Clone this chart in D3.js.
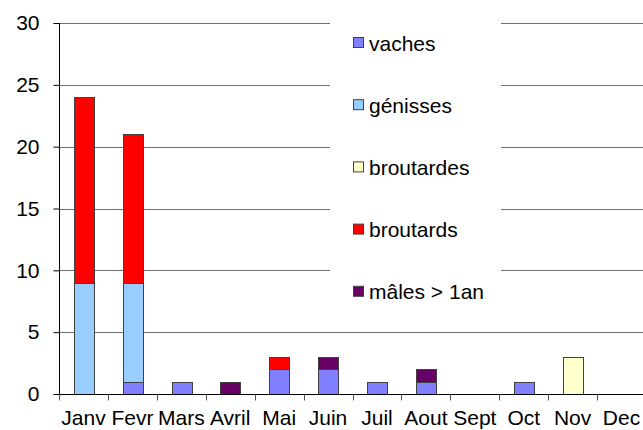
<!DOCTYPE html>
<html lang="fr">
<head>
    <meta charset="UTF-8">
    <title>Mouvements par mois</title>
    <script src="https://d3js.org/d3.v7.min.js"></script>
    <style>
        body { margin: 0; background: #fff; }
        svg { display: block; font-family: "Liberation Sans", Arial, sans-serif; }
        .grid line { stroke: #707070; stroke-width: 1px; }
        .bar { stroke: #404040; stroke-width: 1px; }
    </style>
</head>
<body>
<svg width="643" height="430"></svg>
<script>
    const months = ["Janv", "Fevr", "Mars", "Avril", "Mai", "Juin", "Juil", "Aout", "Sept", "Oct", "Nov", "Dec"];
    const seriesNames = ["vaches", "génisses", "broutardes", "broutards", "mâles > 1an"];
    const colors = ["#8080ff", "#99ccff", "#ffffcc", "#ff0000", "#660066"];

    const vaches     = [0, 1, 1, 0, 2, 2, 1, 1, 0, 1, 0, 0];
    const genisses   = [9, 8, 0, 0, 0, 0, 0, 0, 0, 0, 0, 0];
    const broutardes = [0, 0, 0, 0, 0, 0, 0, 0, 0, 0, 3, 0];
    const broutards  = [15, 12, 0, 0, 1, 0, 0, 0, 0, 0, 0, 0];
    const males      = [0, 0, 0, 1, 0, 1, 0, 1, 0, 0, 0, 0];
    const yTicks = [0, 5, 10, 15, 20, 25, 30];

    const allSeries = [vaches, genisses, broutardes, broutards, males];
    const rows = months.map((m, i) => {
        let r = {month: m};
        seriesNames.forEach((s, j) => r[s] = allSeries[j][i]);
        return r;
    });

    const svg = d3.select("svg");
    const plotLeft = 59, plotRight = 646, plotTop = 23, plotBottom = 394;
    const fontSize = 21;

    const x = d3.scaleBand().domain(months).range([plotLeft, plotRight]);
    const y = d3.scaleLinear().domain([0, 30]).range([plotBottom, plotTop]);

    // gridlines
    svg.append("g").attr("class", "grid")
        .selectAll("line").data(yTicks.filter(d => d > 0)).join("line")
        .attr("x1", plotLeft).attr("x2", 643)
        .attr("y1", d => Math.round(y(d)) + 0.5).attr("y2", d => Math.round(y(d)) + 0.5);

    // legend box covers the grid
    const lg = svg.append("g");
    lg.append("rect").attr("x", 330).attr("y", 17).attr("width", 171).attr("height", 298).attr("fill", "#fff");

    // bars
    const stack = d3.stack().keys(seriesNames)(rows);
    const barW = x.bandwidth() * 0.4;
    svg.append("g").selectAll("g").data(stack).join("g")
        .attr("fill", (d, i) => colors[i])
        .selectAll("rect").data(d => d.filter(p => p[1] > p[0])).join("rect")
        .attr("class", "bar")
        .attr("x", d => Math.round(x(d.data.month) + (x.bandwidth() - barW) / 2) + 0.5)
        .attr("width", Math.round(barW))
        .attr("y", d => Math.round(y(d[1])) + 0.5)
        .attr("height", d => Math.round(y(d[0])) - Math.round(y(d[1])));

    // y axis
    const yAxis = svg.append("g")
        .attr("transform", `translate(${plotLeft + 0.5},0)`)
        .call(d3.axisLeft(y).tickValues(yTicks).tickSize(6).tickSizeOuter(0).tickPadding(14));
    yAxis.select(".domain").attr("stroke", "#000").attr("d", `M0,${plotTop}V${plotBottom}`);
    yAxis.selectAll(".tick line").attr("stroke", "#000");
    yAxis.selectAll("text").attr("font-size", fontSize).attr("fill", "#000")
        .attr("font-family", "Liberation Sans, Arial, sans-serif");

    // x axis
    const xAxis = svg.append("g")
        .attr("transform", `translate(0,${plotBottom + 0.5})`)
        .call(d3.axisBottom(x).tickSize(0).tickPadding(15.5));
    xAxis.select(".domain").attr("stroke", "#000").attr("d", `M${plotLeft},0H643`);
    xAxis.selectAll("text").attr("font-size", fontSize).attr("fill", "#000")
        .attr("font-family", "Liberation Sans, Arial, sans-serif");
    xAxis.selectAll(".sep").data(months).join("line").attr("class", "sep")
        .attr("x1", d => Math.round(x(d)) + 0.5).attr("x2", d => Math.round(x(d)) + 0.5)
        .attr("y1", 0).attr("y2", 6).attr("stroke", "#555");

    // legend items
    const items = lg.selectAll("g.item").data(seriesNames).join("g")
        .attr("class", "item")
        .attr("transform", (d, i) => `translate(353,${43 + i * 62.2})`);
    items.append("rect").attr("x", 0.5).attr("y", -5.5).attr("width", 10).attr("height", 10)
        .attr("fill", (d, i) => colors[i]).attr("stroke", "#404040");
    items.append("text").attr("x", 16).attr("y", 7.5).attr("font-size", fontSize).attr("fill", "#000")
        .text(d => d);
</script>
</body>
</html>
